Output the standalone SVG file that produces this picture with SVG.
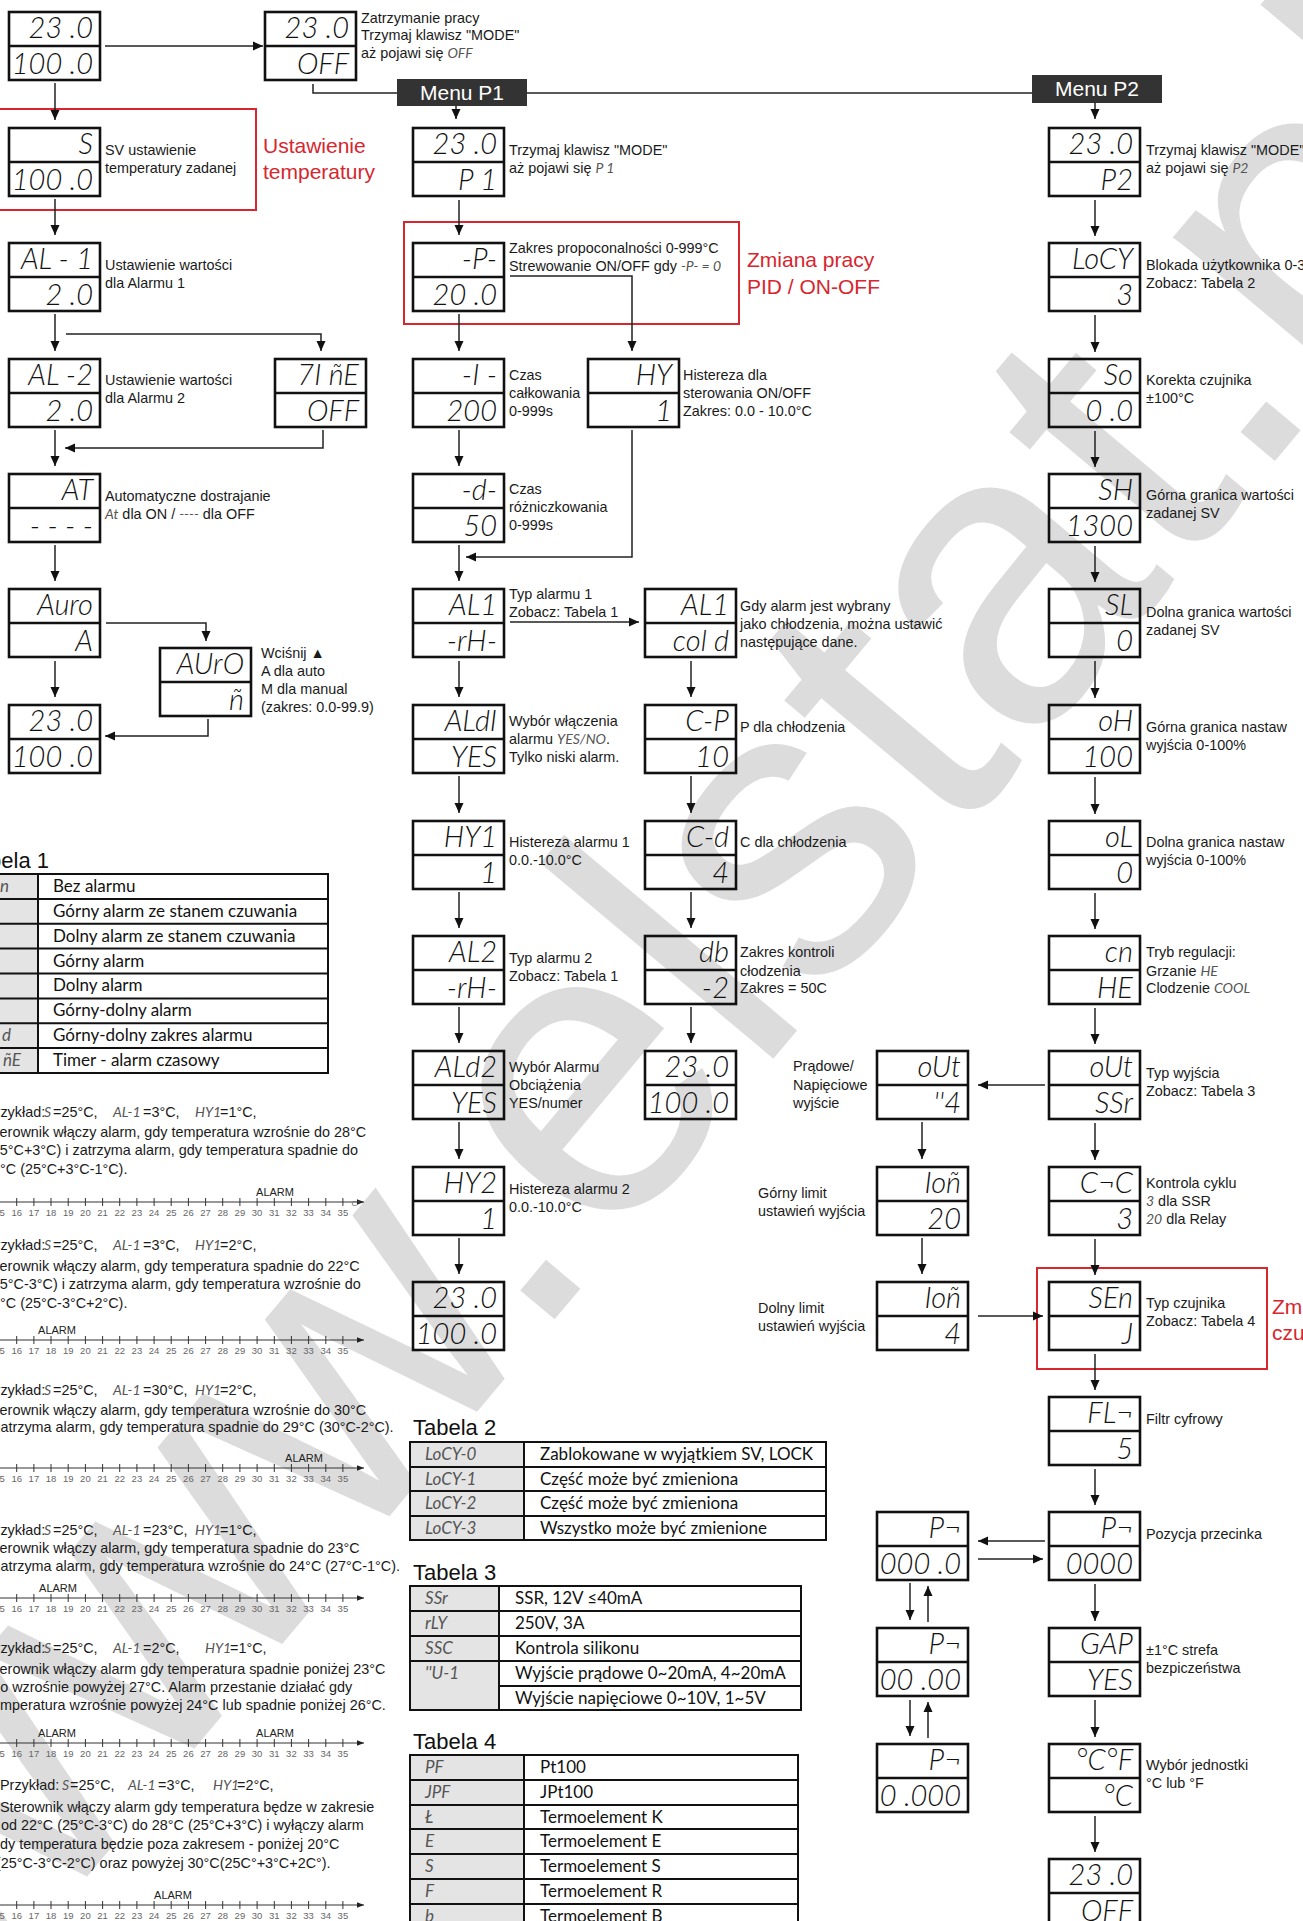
<svg xmlns="http://www.w3.org/2000/svg" xmlns:xlink="http://www.w3.org/1999/xlink" width="1303" height="1921" viewBox="0 0 1303 1921">
<style>
.bx{fill:none;stroke:#111;stroke-width:2.6}
.d{font-family:Lato,"Liberation Sans",Arial,sans-serif;font-style:italic;font-weight:300;font-size:29px;fill:#111;text-anchor:end}
.t{font-family:"Liberation Sans",Arial,sans-serif;font-size:14.4px;fill:#1a1a1a}
.sg{font-family:Lato,"Liberation Sans",Arial,sans-serif;font-style:italic;font-weight:400;fill:#555;font-size:14px}
.red{font-family:"Liberation Sans",Arial,sans-serif;font-size:21px;fill:#d7262e}
.rb{fill:none;stroke:#d7262e;stroke-width:2}
.c{fill:none;stroke:#222;stroke-width:1.5}
.ca{fill:none;stroke:#222;stroke-width:1.5;marker-end:url(#ah)}
.menu{fill:#333}
.mt{font-family:"Liberation Sans",Arial,sans-serif;font-size:21px;fill:#fff;text-anchor:middle}
.tb{fill:none;stroke:#111;stroke-width:2}
.tg{fill:#e4e4e4}
.tt{font-family:Lato,"Liberation Sans",sans-serif;font-size:17px;fill:#111}
.ts{font-family:Lato,"Liberation Sans",sans-serif;font-style:italic;font-weight:400;font-size:17px;fill:#555}
.h{font-family:"Liberation Sans",Arial,sans-serif;font-size:22px;fill:#111}
.ax{fill:none;stroke:#333;stroke-width:1}
.al{font-family:"Liberation Sans",Arial,sans-serif;font-size:11px;fill:#222;text-anchor:middle}
.nl{font-family:"Liberation Sans",Arial,sans-serif;font-size:9.5px;fill:#666;text-anchor:middle}
.wm{font-family:"Liberation Sans",Arial,sans-serif;font-size:420px;fill:#dcdcdc}
</style>
<defs>
<marker id="ah" viewBox="0 0 10 10" refX="10" refY="5" markerWidth="10" markerHeight="10" markerUnits="userSpaceOnUse" orient="auto"><path d="M0,0.5L10,5L0,9.5z" fill="#111"/></marker>
<marker id="ahs" viewBox="0 0 10 10" refX="10" refY="5" markerWidth="7" markerHeight="7" markerUnits="userSpaceOnUse" orient="auto"><path d="M0,1L10,5L0,9z" fill="#222"/></marker>
<g id="fr"><rect class="bx" x="0" y="0" width="91" height="68"/><line class="bx" x1="0" y1="34" x2="91" y2="34"/></g>
<g id="axis">
<path class="ax" d="M-2,0H364" marker-end="url(#ahs)"/>
<path class="ax" d="M-0.5,-4v8M16.7,-4v8M33.9,-4v8M51,-4v8M68.2,-4v8M85.4,-4v8M102.6,-4v8M119.7,-4v8M136.9,-4v8M154.1,-4v8M171.2,-4v8M188.4,-4v8M205.6,-4v8M222.7,-4v8M239.9,-4v8M257.1,-4v8M274.3,-4v8M291.4,-4v8M308.6,-4v8M325.8,-4v8M342.9,-4v8"/>
<text class="nl" y="13.5"><tspan x="-0.5">15</tspan><tspan x="16.7">16</tspan><tspan x="33.9">17</tspan><tspan x="51">18</tspan><tspan x="68.2">19</tspan><tspan x="85.4">20</tspan><tspan x="102.6">21</tspan><tspan x="119.7">22</tspan><tspan x="136.9">23</tspan><tspan x="154.1">24</tspan><tspan x="171.2">25</tspan><tspan x="188.4">26</tspan><tspan x="205.6">27</tspan><tspan x="222.7">28</tspan><tspan x="239.9">29</tspan><tspan x="257.1">30</tspan><tspan x="274.3">31</tspan><tspan x="291.4">32</tspan><tspan x="308.6">33</tspan><tspan x="325.8">34</tspan><tspan x="342.9">35</tspan></text>
</g>
</defs>
<rect x="0" y="0" width="1303" height="1921" fill="#fff"/>
<text class="wm" transform="translate(-40,2028) rotate(-50)">www.elstat.pl</text>

<!-- Menu bars and red frames -->
<g id="menu-p1"><rect class="menu" x="397" y="79" width="130" height="27"/><text class="mt" x="462" y="100">Menu P1</text></g>
<g id="menu-p2"><rect class="menu" x="1032" y="75" width="130" height="28"/><text class="mt" x="1097" y="96">Menu P2</text></g>
<g id="frame-ustawienie"><rect class="rb" x="-1" y="109" width="257" height="101"/><text class="red" x="263" y="153">Ustawienie</text><text class="red" x="263" y="179">temperatury</text></g>
<g id="frame-pid"><rect class="rb" x="404" y="222" width="335" height="102"/><text class="red" x="747" y="267">Zmiana pracy</text><text class="red" x="747" y="294">PID / ON-OFF</text></g>
<g id="frame-czujnik"><rect class="rb" x="1037" y="1268" width="230" height="101"/><text class="red" x="1272" y="1314">Zmiana</text><text class="red" x="1272" y="1340">czujnika</text></g>

<g id="connectors">
<path class="ca" d="M105,46H263"/>
<path class="c" d="M313,84V93H397"/>
<path class="c" d="M527,93H1032"/>
<path class="ca" d="M456,106V119"/>
<path class="ca" d="M1095,103V119"/>
<path class="ca" d="M55,83V120"/>
<path class="ca" d="M55,199V235"/>
<path class="ca" d="M55,314V351"/>
<path class="ca" d="M66,334H321V351"/>
<path class="ca" d="M55,430V466"/>
<path class="ca" d="M323,430V448H65"/>
<path class="ca" d="M55,545V581"/>
<path class="ca" d="M106,623H206V641"/>
<path class="ca" d="M55,661V697"/>
<path class="ca" d="M208,719V736H105"/>
<path class="ca" d="M459,200V235"/>
<path class="ca" d="M459,314V351"/>
<path class="ca" d="M510,276H632V351"/>
<path class="ca" d="M459,430V466"/>
<path class="ca" d="M632,430V557H466"/>
<path class="ca" d="M459,545V581"/>
<path class="ca" d="M510,622H639"/>
<path class="ca" d="M459,661V697"/>
<path class="ca" d="M459,776V813"/>
<path class="ca" d="M459,892V928"/>
<path class="ca" d="M459,1007V1043"/>
<path class="ca" d="M459,1122V1159"/>
<path class="ca" d="M459,1238V1274"/>
<path class="ca" d="M691,661V697"/>
<path class="ca" d="M691,776V813"/>
<path class="ca" d="M691,892V928"/>
<path class="ca" d="M691,1007V1043"/>
<path class="ca" d="M1095,200V236"/>
<path class="ca" d="M1095,315V352"/>
<path class="ca" d="M1095,431V467"/>
<path class="ca" d="M1095,546V582"/>
<path class="ca" d="M1095,661V698"/>
<path class="ca" d="M1095,777V814"/>
<path class="ca" d="M1095,893V929"/>
<path class="ca" d="M1095,1008V1044"/>
<path class="ca" d="M1095,1123V1160"/>
<path class="ca" d="M1095,1239V1275"/>
<path class="ca" d="M1095,1354V1390"/>
<path class="ca" d="M1095,1469V1505"/>
<path class="ca" d="M1095,1584V1621"/>
<path class="ca" d="M1095,1700V1737"/>
<path class="ca" d="M1095,1816V1852"/>
<path class="ca" d="M1045,1085H978"/>
<path class="ca" d="M922,1122V1159"/>
<path class="ca" d="M922,1238V1274"/>
<path class="ca" d="M978,1316H1043"/>
<path class="ca" d="M1045,1541H978"/>
<path class="ca" d="M978,1559H1043"/>
<path class="ca" d="M910,1583V1620"/>
<path class="ca" d="M928,1622V1586"/>
<path class="ca" d="M910,1700V1736"/>
<path class="ca" d="M928,1738V1702"/>
</g>

<!-- Left column -->
<g id="n-l0"><use href="#fr" x="9" y="12"/><text class="d" x="93" y="38">23 .0</text><text class="d" x="93" y="74">100 .0</text></g>
<g id="n-stop"><use href="#fr" x="265" y="12"/><text class="d" x="349" y="38">23 .0</text><text class="d" x="349" y="74">OFF</text>
<text class="t" x="361" y="23">Zatrzymanie pracy</text><text class="t" x="361" y="40">Trzymaj klawisz "MODE"</text><text class="t" x="361" y="58">aż pojawi się <tspan class="sg">OFF</tspan></text></g>
<g id="n-sv"><use href="#fr" x="9" y="128"/><text class="d" x="93" y="154">S</text><text class="d" x="93" y="190">100 .0</text>
<text class="t" x="105" y="155">SV ustawienie</text><text class="t" x="105" y="173">temperatury zadanej</text></g>
<g id="n-al1"><use href="#fr" x="9" y="243"/><text class="d" x="93" y="269">AL - 1</text><text class="d" x="93" y="305">2 .0</text>
<text class="t" x="105" y="270">Ustawienie wartości</text><text class="t" x="105" y="288">dla Alarmu 1</text></g>
<g id="n-al2"><use href="#fr" x="9" y="359"/><text class="d" x="93" y="385">AL -2</text><text class="d" x="93" y="421">2 .0</text>
<text class="t" x="105" y="385">Ustawienie wartości</text><text class="t" x="105" y="403">dla Alarmu 2</text></g>
<g id="n-time"><use href="#fr" x="275" y="359"/><text class="d" x="359" y="385">7I ñE</text><text class="d" x="359" y="421">OFF</text></g>
<g id="n-at"><use href="#fr" x="9" y="474"/><text class="d" x="93" y="500">AT</text><text class="d" x="93" y="536">- - - -</text>
<text class="t" x="105" y="501">Automatyczne dostrajanie</text><text class="t" x="105" y="519"><tspan class="sg">At</tspan> dla ON / <tspan class="sg">----</tspan> dla OFF</text></g>
<g id="n-auro"><use href="#fr" x="9" y="589"/><text class="d" x="93" y="615">Auro</text><text class="d" x="93" y="651">A</text></g>
<g id="n-auto"><use href="#fr" x="160" y="648"/><text class="d" x="244" y="674">AUrO</text><text class="d" x="244" y="710">ñ</text>
<text class="t" x="261" y="658">Wciśnij ▲</text><text class="t" x="261" y="676">A dla auto</text><text class="t" x="261" y="694">M dla manual</text><text class="t" x="261" y="712">(zakres: 0.0-99.9)</text></g>
<g id="n-l6"><use href="#fr" x="9" y="705"/><text class="d" x="93" y="731">23 .0</text><text class="d" x="93" y="767">100 .0</text></g>

<!-- P1 column -->
<g id="n-p1"><use href="#fr" x="413" y="128"/><text class="d" x="497" y="154">23 .0</text><text class="d" x="497" y="190">P 1</text>
<text class="t" x="509" y="155">Trzymaj klawisz "MODE"</text><text class="t" x="509" y="173">aż pojawi się <tspan class="sg">P 1</tspan></text></g>
<g id="n-p"><use href="#fr" x="413" y="243"/><text class="d" x="497" y="269">-P-</text><text class="d" x="497" y="305">20 .0</text>
<text class="t" x="509" y="253">Zakres propoconalności 0-999°C</text><text class="t" x="509" y="271">Strewowanie ON/OFF gdy <tspan class="sg">-P- = 0</tspan></text></g>
<g id="n-i"><use href="#fr" x="413" y="359"/><text class="d" x="497" y="385">-I -</text><text class="d" x="497" y="421">200</text>
<text class="t" x="509" y="380">Czas</text><text class="t" x="509" y="398">całkowania</text><text class="t" x="509" y="416">0-999s</text></g>
<g id="n-hy"><use href="#fr" x="588" y="359"/><text class="d" x="672" y="385">HY</text><text class="d" x="672" y="421">1</text>
<text class="t" x="683" y="380">Histereza dla</text><text class="t" x="683" y="398">sterowania ON/OFF</text><text class="t" x="683" y="416">Zakres: 0.0 - 10.0°C</text></g>
<g id="n-d"><use href="#fr" x="413" y="474"/><text class="d" x="497" y="500">-d-</text><text class="d" x="497" y="536">50</text>
<text class="t" x="509" y="494">Czas</text><text class="t" x="509" y="512">różniczkowania</text><text class="t" x="509" y="530">0-999s</text></g>
<g id="n-al1t"><use href="#fr" x="413" y="589"/><text class="d" x="497" y="615">AL1</text><text class="d" x="497" y="651">-rH-</text>
<text class="t" x="509" y="599">Typ alarmu 1</text><text class="t" x="509" y="617">Zobacz: Tabela 1</text></g>
<g id="n-aldi"><use href="#fr" x="413" y="705"/><text class="d" x="497" y="731">ALdI</text><text class="d" x="497" y="767">YES</text>
<text class="t" x="509" y="726">Wybór włączenia</text><text class="t" x="509" y="744">alarmu <tspan class="sg">YES/NO</tspan>.</text><text class="t" x="509" y="762">Tylko niski alarm.</text></g>
<g id="n-hy1"><use href="#fr" x="413" y="821"/><text class="d" x="497" y="847">HY1</text><text class="d" x="497" y="883">1</text>
<text class="t" x="509" y="847">Histereza alarmu 1</text><text class="t" x="509" y="865">0.0.-10.0°C</text></g>
<g id="n-al2t"><use href="#fr" x="413" y="936"/><text class="d" x="497" y="962">AL2</text><text class="d" x="497" y="998">-rH-</text>
<text class="t" x="509" y="963">Typ alarmu 2</text><text class="t" x="509" y="981">Zobacz: Tabela 1</text></g>
<g id="n-ald2"><use href="#fr" x="413" y="1051"/><text class="d" x="497" y="1077">ALd2</text><text class="d" x="497" y="1113">YES</text>
<text class="t" x="509" y="1072">Wybór Alarmu</text><text class="t" x="509" y="1090">Obciążenia</text><text class="t" x="509" y="1108">YES/numer</text></g>
<g id="n-hy2"><use href="#fr" x="413" y="1167"/><text class="d" x="497" y="1193">HY2</text><text class="d" x="497" y="1229">1</text>
<text class="t" x="509" y="1194">Histereza alarmu 2</text><text class="t" x="509" y="1212">0.0.-10.0°C</text></g>
<g id="n-p1end"><use href="#fr" x="413" y="1282"/><text class="d" x="497" y="1308">23 .0</text><text class="d" x="497" y="1344">100 .0</text></g>

<!-- Cooling column -->
<g id="n-cold"><use href="#fr" x="645" y="589"/><text class="d" x="729" y="615">AL1</text><text class="d" x="729" y="651">col d</text>
<text class="t" x="740" y="611">Gdy alarm jest wybrany</text><text class="t" x="740" y="629">jako chłodzenia, można ustawić</text><text class="t" x="740" y="647">następujące dane.</text></g>
<g id="n-cp"><use href="#fr" x="645" y="705"/><text class="d" x="729" y="731">C-P</text><text class="d" x="729" y="767">10</text>
<text class="t" x="740" y="732">P dla chłodzenia</text></g>
<g id="n-cd"><use href="#fr" x="645" y="821"/><text class="d" x="729" y="847">C-d</text><text class="d" x="729" y="883">4</text>
<text class="t" x="740" y="847">C dla chłodzenia</text></g>
<g id="n-db"><use href="#fr" x="645" y="936"/><text class="d" x="729" y="962">db</text><text class="d" x="729" y="998">-2</text>
<text class="t" x="740" y="957">Zakres kontroli</text><text class="t" x="740" y="976">cłodzenia</text><text class="t" x="740" y="993">Zakres = 50C</text></g>
<g id="n-cend"><use href="#fr" x="645" y="1051"/><text class="d" x="729" y="1077">23 .0</text><text class="d" x="729" y="1113">100 .0</text></g>

<!-- Output column -->
<g id="n-out2"><use href="#fr" x="877" y="1051"/><text class="d" x="961" y="1077">oUt</text><text class="d" x="961" y="1113">''4</text>
<text class="t" x="793" y="1071">Prądowe/</text><text class="t" x="793" y="1090">Napięciowe</text><text class="t" x="793" y="1108">wyjście</text></g>
<g id="n-ion20"><use href="#fr" x="877" y="1167"/><text class="d" x="961" y="1193">Ioñ</text><text class="d" x="961" y="1229">20</text>
<text class="t" x="758" y="1198">Górny limit</text><text class="t" x="758" y="1216">ustawień wyjścia</text></g>
<g id="n-ion4"><use href="#fr" x="877" y="1282"/><text class="d" x="961" y="1308">Ioñ</text><text class="d" x="961" y="1344">4</text>
<text class="t" x="758" y="1313">Dolny limit</text><text class="t" x="758" y="1331">ustawień wyjścia</text></g>
<g id="n-pn1"><use href="#fr" x="877" y="1512"/><text class="d" x="961" y="1538">P¬</text><text class="d" x="961" y="1574">000 .0</text></g>
<g id="n-pn2"><use href="#fr" x="877" y="1628"/><text class="d" x="961" y="1654">P¬</text><text class="d" x="961" y="1690">00 .00</text></g>
<g id="n-pn3"><use href="#fr" x="877" y="1744"/><text class="d" x="961" y="1770">P¬</text><text class="d" x="961" y="1806">0 .000</text></g>

<!-- P2 column -->
<g id="n-p2"><use href="#fr" x="1049" y="128"/><text class="d" x="1133" y="154">23 .0</text><text class="d" x="1133" y="190">P2</text>
<text class="t" x="1146" y="155">Trzymaj klawisz "MODE"</text><text class="t" x="1146" y="173">aż pojawi się <tspan class="sg">P2</tspan></text></g>
<g id="n-locy"><use href="#fr" x="1049" y="243"/><text class="d" x="1133" y="269">LoCY</text><text class="d" x="1133" y="305">3</text>
<text class="t" x="1146" y="270">Blokada użytkownika 0-3</text><text class="t" x="1146" y="288">Zobacz: Tabela 2</text></g>
<g id="n-so"><use href="#fr" x="1049" y="359"/><text class="d" x="1133" y="385">So</text><text class="d" x="1133" y="421">0 .0</text>
<text class="t" x="1146" y="385">Korekta czujnika</text><text class="t" x="1146" y="403">±100°C</text></g>
<g id="n-sh"><use href="#fr" x="1049" y="474"/><text class="d" x="1133" y="500">SH</text><text class="d" x="1133" y="536">1300</text>
<text class="t" x="1146" y="500">Górna granica wartości</text><text class="t" x="1146" y="518">zadanej SV</text></g>
<g id="n-sl"><use href="#fr" x="1049" y="589"/><text class="d" x="1133" y="615">SL</text><text class="d" x="1133" y="651">0</text>
<text class="t" x="1146" y="617">Dolna granica wartości</text><text class="t" x="1146" y="635">zadanej SV</text></g>
<g id="n-oh"><use href="#fr" x="1049" y="705"/><text class="d" x="1133" y="731">oH</text><text class="d" x="1133" y="767">100</text>
<text class="t" x="1146" y="732">Górna granica nastaw</text><text class="t" x="1146" y="750">wyjścia 0-100%</text></g>
<g id="n-ol"><use href="#fr" x="1049" y="821"/><text class="d" x="1133" y="847">oL</text><text class="d" x="1133" y="883">0</text>
<text class="t" x="1146" y="847">Dolna granica nastaw</text><text class="t" x="1146" y="865">wyjścia 0-100%</text></g>
<g id="n-cn"><use href="#fr" x="1049" y="936"/><text class="d" x="1133" y="962">cn</text><text class="d" x="1133" y="998">HE</text>
<text class="t" x="1146" y="957">Tryb regulacji:</text><text class="t" x="1146" y="976">Grzanie <tspan class="sg">HE</tspan></text><text class="t" x="1146" y="993">Clodzenie <tspan class="sg">COOL</tspan></text></g>
<g id="n-out"><use href="#fr" x="1049" y="1051"/><text class="d" x="1133" y="1077">oUt</text><text class="d" x="1133" y="1113">SSr</text>
<text class="t" x="1146" y="1078">Typ wyjścia</text><text class="t" x="1146" y="1096">Zobacz: Tabela 3</text></g>
<g id="n-cnc"><use href="#fr" x="1049" y="1167"/><text class="d" x="1133" y="1193">C¬C</text><text class="d" x="1133" y="1229">3</text>
<text class="t" x="1146" y="1188">Kontrola cyklu</text><text class="t" x="1146" y="1206"><tspan class="sg">3</tspan> dla SSR</text><text class="t" x="1146" y="1224"><tspan class="sg">20</tspan> dla Relay</text></g>
<g id="n-sen"><use href="#fr" x="1049" y="1282"/><text class="d" x="1133" y="1308">SEn</text><text class="d" x="1133" y="1344">J</text>
<text class="t" x="1146" y="1308">Typ czujnika</text><text class="t" x="1146" y="1326">Zobacz: Tabela 4</text></g>
<g id="n-fln"><use href="#fr" x="1049" y="1397"/><text class="d" x="1133" y="1423">FL¬</text><text class="d" x="1133" y="1459">5</text>
<text class="t" x="1146" y="1424">Filtr cyfrowy</text></g>
<g id="n-pn"><use href="#fr" x="1049" y="1512"/><text class="d" x="1133" y="1538">P¬</text><text class="d" x="1133" y="1574">0000</text>
<text class="t" x="1146" y="1539">Pozycja przecinka</text></g>
<g id="n-gap"><use href="#fr" x="1049" y="1628"/><text class="d" x="1133" y="1654">GAP</text><text class="d" x="1133" y="1690">YES</text>
<text class="t" x="1146" y="1655">±1°C strefa</text><text class="t" x="1146" y="1673">bezpiczeństwa</text></g>
<g id="n-cf"><use href="#fr" x="1049" y="1744"/><text class="d" x="1133" y="1770">°C°F</text><text class="d" x="1133" y="1806">°C</text>
<text class="t" x="1146" y="1770">Wybór jednostki</text><text class="t" x="1146" y="1788">°C lub °F</text></g>
<g id="n-p2end"><use href="#fr" x="1049" y="1859"/><text class="d" x="1133" y="1885">23 .0</text><text class="d" x="1133" y="1921">OFF</text></g>

<!-- Tabela 1 -->
<g id="tabela1">
<text class="h" x="49" y="868" text-anchor="end">Tabela 1</text>
<rect class="tg" x="-10" y="874" width="48" height="199"/>
<rect class="tb" x="-10" y="874" width="338" height="199"/>
<path class="tb" d="M38,874V1073M-10,898.9H328M-10,923.8H328M-10,948.6H328M-10,973.5H328M-10,998.4H328M-10,1023.3H328M-10,1048.1H328"/>
<text class="ts" text-anchor="end"><tspan x="9" y="892">n</tspan><tspan x="11" y="1041">d</tspan><tspan x="21" y="1066">ñE</tspan></text>
<text class="tt"><tspan x="53" y="892">Bez alarmu</tspan><tspan x="53" y="917">Górny alarm ze stanem czuwania</tspan><tspan x="53" y="942">Dolny alarm ze stanem czuwania</tspan><tspan x="53" y="967">Górny alarm</tspan><tspan x="53" y="991">Dolny alarm</tspan><tspan x="53" y="1016">Górny-dolny alarm</tspan><tspan x="53" y="1041">Górny-dolny zakres alarmu</tspan><tspan x="53" y="1066">Timer - alarm czasowy</tspan></text>
</g>

<!-- Examples -->
<g id="przyklady">
<text class="t" y="1117"><tspan x="-14">Przykład:</tspan><tspan class="sg" x="44">S</tspan><tspan x="53">=25°C,</tspan><tspan class="sg" x="113">AL-1</tspan><tspan x="143">=3°C,</tspan><tspan class="sg" x="195">HY1</tspan><tspan x="220">=1°C,</tspan></text>
<text class="t" x="-14" y="1137">Sterownik włączy alarm, gdy temperatura wzrośnie do 28°C</text>
<text class="t" x="-13" y="1155">(25°C+3°C) i zatrzyma alarm, gdy temperatura spadnie do</text>
<text class="t" x="-16" y="1174">27°C (25°C+3°C-1°C).</text>
<use href="#axis" x="0" y="1202"/>
<text class="al" x="275" y="1196">ALARM</text>
<text class="nl" x="356" y="1206" style="font-size:8px">C°</text>

<text class="t" y="1250"><tspan x="-14">Przykład:</tspan><tspan class="sg" x="44">S</tspan><tspan x="53">=25°C,</tspan><tspan class="sg" x="113">AL-1</tspan><tspan x="143">=3°C,</tspan><tspan class="sg" x="195">HY1</tspan><tspan x="220">=2°C,</tspan></text>
<text class="t" x="-14" y="1271">Sterownik włączy alarm, gdy temperatura spadnie do 22°C</text>
<text class="t" x="-13" y="1289">(25°C-3°C) i zatrzyma alarm, gdy temperatura wzrośnie do</text>
<text class="t" x="-16" y="1308">24°C (25°C-3°C+2°C).</text>
<use href="#axis" x="0" y="1340"/>
<text class="al" x="57" y="1334">ALARM</text>

<text class="t" y="1395"><tspan x="-14">Przykład:</tspan><tspan class="sg" x="44">S</tspan><tspan x="53">=25°C,</tspan><tspan class="sg" x="113">AL-1</tspan><tspan x="143">=30°C,</tspan><tspan class="sg" x="195">HY1</tspan><tspan x="220">=2°C,</tspan></text>
<text class="t" x="-14" y="1415">Sterownik włączy alarm, gdy temperatura wzrośnie do 30°C</text>
<text class="t" x="-14" y="1432">i zatrzyma alarm, gdy temperatura spadnie do 29°C (30°C-2°C).</text>
<use href="#axis" x="0" y="1468"/>
<text class="al" x="304" y="1462">ALARM</text>

<text class="t" y="1535"><tspan x="-14">Przykład:</tspan><tspan class="sg" x="44">S</tspan><tspan x="53">=25°C,</tspan><tspan class="sg" x="113">AL-1</tspan><tspan x="143">=23°C,</tspan><tspan class="sg" x="195">HY1</tspan><tspan x="220">=1°C,</tspan></text>
<text class="t" x="-14" y="1553">Sterownik włączy alarm, gdy temperatura spadnie do 23°C</text>
<text class="t" x="-14" y="1571">i zatrzyma alarm, gdy temperatura wzrośnie do 24°C (27°C-1°C).</text>
<use href="#axis" x="0" y="1598"/>
<text class="al" x="58" y="1592">ALARM</text>

<text class="t" y="1653"><tspan x="-14">Przykład:</tspan><tspan class="sg" x="44">S</tspan><tspan x="53">=25°C,</tspan><tspan class="sg" x="113">AL-1</tspan><tspan x="143">=2°C,</tspan><tspan class="sg" x="205">HY1</tspan><tspan x="230">=1°C,</tspan></text>
<text class="t" x="-14" y="1674">Sterownik włączy alarm gdy temperatura spadnie poniżej 23°C</text>
<text class="t" x="-19" y="1692">albo wzrośnie powyżej 27°C. Alarm przestanie działać gdy</text>
<text class="t" x="-12" y="1710">temperatura wzrośnie powyżej 24°C lub spadnie poniżej 26°C.</text>
<use href="#axis" x="0" y="1743"/>
<text class="al" x="57" y="1737">ALARM</text>
<text class="al" x="275" y="1737">ALARM</text>

<text class="t" y="1790"><tspan x="0">Przykład:</tspan><tspan class="sg" x="62">S</tspan><tspan x="70">=25°C,</tspan><tspan class="sg" x="128">AL-1</tspan><tspan x="158">=3°C,</tspan><tspan class="sg" x="213">HY1</tspan><tspan x="237">=2°C,</tspan></text>
<text class="t" x="0" y="1812">Sterownik włączy alarm gdy temperatura będze w zakresie</text>
<text class="t" x="1" y="1830">od 22°C (25°C-3°C) do 28°C (25°C+3°C) i wyłączy alarm</text>
<text class="t" x="-8" y="1849">gdy temperatura będzie poza zakresem - poniżej 20°C</text>
<text class="t" x="-4" y="1868">(25°C-3°C-2°C) oraz powyżej 30°C(25C°+3°C+2C°).</text>
<use href="#axis" x="0" y="1905"/>
<text class="al" x="173" y="1899">ALARM</text>
</g>

<!-- Tabela 2 -->
<g id="tabela2">
<text class="h" x="413" y="1435">Tabela 2</text>
<rect class="tg" x="410" y="1442" width="114" height="98"/>
<rect class="tb" x="410" y="1442" width="416" height="98"/>
<path class="tb" d="M524,1442V1540M410,1467H826M410,1491H826M410,1516H826"/>
<text class="ts"><tspan x="425" y="1460">LoCY-0</tspan><tspan x="425" y="1485">LoCY-1</tspan><tspan x="425" y="1509">LoCY-2</tspan><tspan x="425" y="1534">LoCY-3</tspan></text>
<text class="tt"><tspan x="540" y="1460">Zablokowane w wyjątkiem SV, LOCK</tspan><tspan x="540" y="1485">Część może być zmieniona</tspan><tspan x="540" y="1509">Część może być zmieniona</tspan><tspan x="540" y="1534">Wszystko może być zmienione</tspan></text>
</g>

<!-- Tabela 3 -->
<g id="tabela3">
<text class="h" x="413" y="1580">Tabela 3</text>
<rect class="tg" x="410" y="1586" width="89" height="124"/>
<rect class="tb" x="410" y="1586" width="391" height="124"/>
<path class="tb" d="M499,1586V1710M410,1611H801M410,1636H801M410,1661H801M499,1686H801"/>
<text class="ts"><tspan x="425" y="1604">SSr</tspan><tspan x="425" y="1629">rLY</tspan><tspan x="425" y="1654">SSC</tspan><tspan x="425" y="1679">''U-1</tspan></text>
<text class="tt"><tspan x="515" y="1604">SSR, 12V ≤40mA</tspan><tspan x="515" y="1629">250V, 3A</tspan><tspan x="515" y="1654">Kontrola silikonu</tspan><tspan x="515" y="1679">Wyjście prądowe 0~20mA, 4~20mA</tspan><tspan x="515" y="1704">Wyjście napięciowe 0~10V, 1~5V</tspan></text>
</g>

<!-- Tabela 4 -->
<g id="tabela4">
<text class="h" x="413" y="1749">Tabela 4</text>
<rect class="tg" x="410" y="1755" width="114" height="174"/>
<rect class="tb" x="410" y="1755" width="388" height="174"/>
<path class="tb" d="M524,1755V1929M410,1780H798M410,1805H798M410,1829H798M410,1854H798M410,1879H798M410,1904H798"/>
<text class="ts"><tspan x="425" y="1773">PF</tspan><tspan x="425" y="1798">JPF</tspan><tspan x="425" y="1823">Ł</tspan><tspan x="425" y="1847">E</tspan><tspan x="425" y="1872">S</tspan><tspan x="425" y="1897">F</tspan><tspan x="425" y="1922">b</tspan></text>
<text class="tt"><tspan x="540" y="1773">Pt100</tspan><tspan x="540" y="1798">JPt100</tspan><tspan x="540" y="1823">Termoelement K</tspan><tspan x="540" y="1847">Termoelement E</tspan><tspan x="540" y="1872">Termoelement S</tspan><tspan x="540" y="1897">Termoelement R</tspan><tspan x="540" y="1922">Termoelement B</tspan></text>
</g>
</svg>
